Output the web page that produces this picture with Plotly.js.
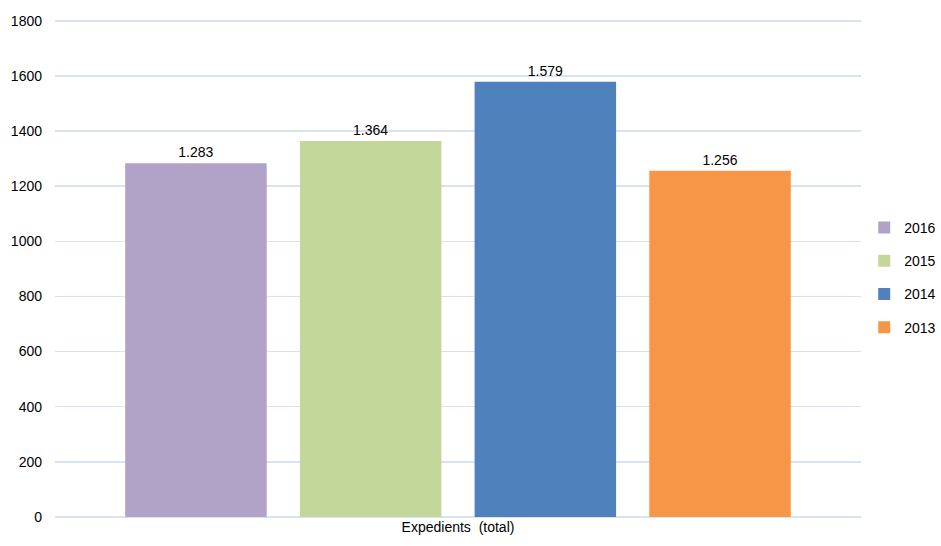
<!DOCTYPE html>
<html>
<head>
<meta charset="utf-8">
<script src="https://cdn.plot.ly/plotly-3.0.1.min.js"></script>
<style>html,body{margin:0;padding:0;background:#fff;}#chart{width:941px;height:546px;}</style>
</head>
<body>
<div id="chart"></div>
<script>
const category = ["Expedients\u00a0\u00a0(total)"];
const years = ["2016", "2015", "2014", "2013"];
const values = [1283, 1364, 1579, 1256];
const valueLabels = ["1.283", "1.364", "1.579", "1.256"];
const colors = ["#b1a2c7", "#c4d79b", "#4f81bd", "#f79646"];
const yTicks = [0, 200, 400, 600, 800, 1000, 1200, 1400, 1600, 1800];

const FONT = "Liberation Sans, Arial, sans-serif";

const traces = years.map((yr, i) => ({
  type: "bar",
  name: yr,
  x: category,
  y: [values[i]],
  text: [valueLabels[i]],
  texttemplate: "%{text}",
  textposition: "outside",
  textfont: {family: FONT, size: 14, color: "#000"},
  cliponaxis: false,
  marker: {color: colors[i], line: {width: 0}},
  legendgroup: yr,
  hoverinfo: "none"
}));

const layout = {
  width: 941,
  height: 546,
  margin: {l: 55, r: 80, t: 18, b: 29, autoexpand: false},
  paper_bgcolor: "#fff",
  plot_bgcolor: "#fff",
  font: {family: FONT, size: 14, color: "#000"},
  barmode: "group",
  bargap: 0.133,
  bargroupgap: 0.19,
  showlegend: true,
  legend: {
    x: 1.004, xanchor: "left",
    y: 0.48, yanchor: "middle",
    traceorder: "grouped",
    tracegroupgap: 12,
    font: {family: FONT, size: 14, color: "#000"},
    itemwidth: 30
  },
  xaxis: {
    type: "category",
    showgrid: false,
    zeroline: false,
    showline: false,
    ticks: "",
    tickfont: {family: FONT, size: 14, color: "#000"}
  },
  yaxis: {
    range: [0, 1810],
    tickvals: yTicks,
    ticktext: yTicks.map(String),
    showgrid: true,
    gridcolor: "#d9e2f1",
    gridwidth: 1.5,
    zeroline: true,
    zerolinecolor: "#d9e2f1",
    zerolinewidth: 1.5,
    showline: false,
    ticks: "",
    ticklabelstandoff: 12,
    tickfont: {family: FONT, size: 14, color: "#000"}
  }
};

Plotly.newPlot("chart", traces, layout, {displayModeBar: false, staticPlot: true});
</script>
</body>
</html>
